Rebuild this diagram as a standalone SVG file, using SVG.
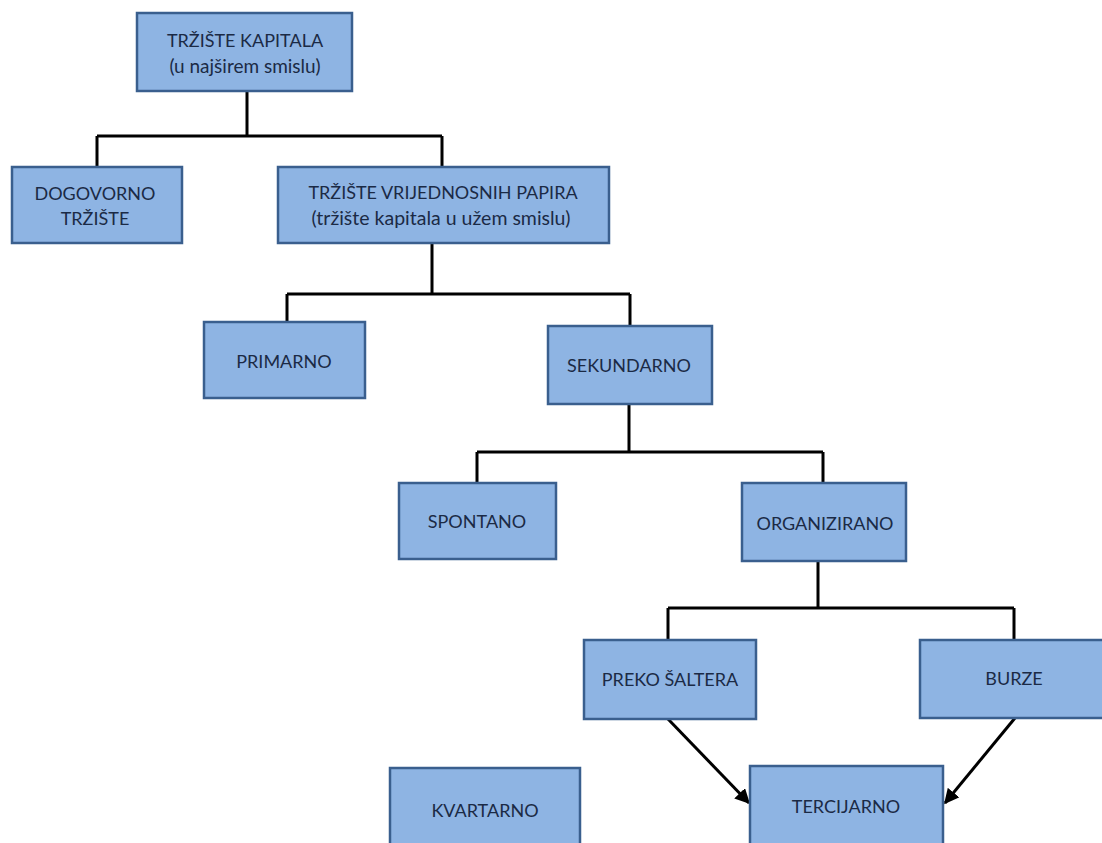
<svg xmlns="http://www.w3.org/2000/svg" width="1102" height="843" viewBox="0 0 1102 843">
<defs>
<marker id="arr" viewBox="0 0 10 10" refX="9" refY="5" markerWidth="5" markerHeight="5" orient="auto" markerUnits="strokeWidth">
<path d="M0,0 L10,5 L0,10 z" fill="#000"/>
</marker>
<style>
.box{fill:#8EB4E3;stroke:#3A5F8E;stroke-width:2.5}
.t{font-family:Lato,"Open Sans",sans-serif;font-size:18px;fill:#1B2A45;text-anchor:middle}
.s{font-size:19px}
.c{fill:none;stroke:#000;stroke-width:3}
</style>
</defs>
<rect width="1102" height="843" fill="#fff"/>
<g id="connectors">
<path class="c" d="M247,91 V136 M97,136 H442 M97,136 V167 M442,136 V167"/>
<path class="c" d="M432,243 V294 M287,294 H630 M287,294 V322 M630,294 V326"/>
<path class="c" d="M629,404 V452 M477,452 H823 M477,452 V483 M823,452 V483"/>
<path class="c" d="M818,561 V608 M668,608 H1014 M668,608 V640 M1014,608 V640"/>
<path class="c" d="M668,719 L749,803" marker-end="url(#arr)"/>
<path class="c" d="M1015,718 L945,803" marker-end="url(#arr)"/>
</g>
<g id="n1"><rect class="box" x="137" y="13" width="215" height="78"/>
<text class="t" x="245" y="47">TRŽIŠTE KAPITALA</text><text class="t s" x="245" y="73">(u najširem smislu)</text></g>
<g id="n2"><rect class="box" x="12" y="167" width="170" height="76"/>
<text class="t" x="95" y="200">DOGOVORNO</text><text class="t" x="95" y="225">TRŽIŠTE</text></g>
<g id="n3"><rect class="box" x="278" y="167" width="331" height="76"/>
<text class="t" x="443" y="199">TRŽIŠTE VRIJEDNOSNIH PAPIRA</text><text class="t s" x="441" y="225" style="font-size:19.5px">(tržište kapitala u užem smislu)</text></g>
<g id="n4"><rect class="box" x="204" y="322" width="161" height="76"/>
<text class="t" x="284" y="368">PRIMARNO</text></g>
<g id="n5"><rect class="box" x="548" y="326" width="164" height="78"/>
<text class="t" x="629" y="372">SEKUNDARNO</text></g>
<g id="n6"><rect class="box" x="399" y="483" width="157" height="76"/>
<text class="t" x="477" y="528">SPONTANO</text></g>
<g id="n7"><rect class="box" x="742" y="483" width="164" height="78"/>
<text class="t" x="825" y="530">ORGANIZIRANO</text></g>
<g id="n8"><rect class="box" x="584" y="640" width="172" height="79"/>
<text class="t" x="670" y="686">PREKO ŠALTERA</text></g>
<g id="n9"><rect class="box" x="920" y="640" width="190" height="78"/>
<text class="t" x="1014" y="685">BURZE</text></g>
<g id="n10"><rect class="box" x="750" y="766" width="193" height="85"/>
<text class="t" x="846" y="813">TERCIJARNO</text></g>
<g id="n11"><rect class="box" x="390" y="768" width="190" height="85"/>
<text class="t" x="485" y="817">KVARTARNO</text></g>
</svg>
